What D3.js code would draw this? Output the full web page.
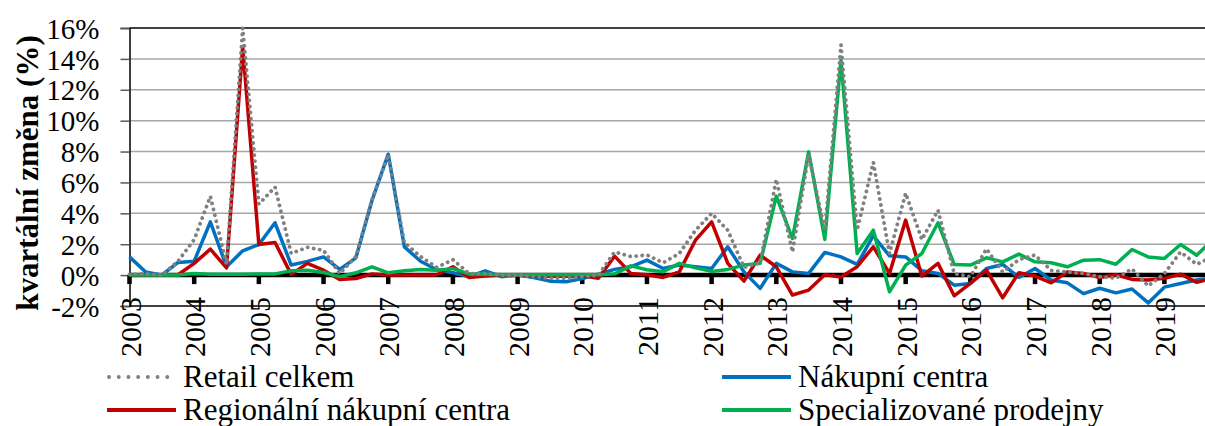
<!DOCTYPE html>
<html>
<head>
<meta charset="utf-8">
<script src="https://cdn.jsdelivr.net/npm/d3@7"></script>
<style>
  body { margin: 0; background: #fff; }
  svg { display: block; }
  text { font-family: "Liberation Serif", "Times New Roman", serif; }
</style>
</head>
<body>
<div class="home"></div>
<script>
// quarterly change (%) 2003Q1 .. 2019Q4
const years = ["2003","2004","2005","2006","2007","2008","2009","2010","2011","2012","2013","2014","2015","2016","2017","2018","2019"];
const yTicks = [-2, 0, 2, 4, 6, 8, 10, 12, 14, 16];

const retail = [0.05, 0.1, 0.0, 0.9, 2.3, 5.1, 0.7, 16.0, 4.6, 5.7, 1.4, 1.8, 1.6, 0.1, 1.2, 4.9, 7.8, 2.1, 1.2, 0.5,
  1.0, 0.1, 0.1, 0.0, 0.0, -0.1, -0.2, -0.2, -0.1, 0.0, 1.5, 1.2, 1.3, 0.8, 1.4, 2.9, 4.0, 2.9, 0.5, 0.8,
  6.2, 1.5, 7.8, 2.9, 14.9, 2.9, 7.3, 1.4, 5.3, 2.3, 4.2, 0.1, -0.1, 1.7, 0.2, 1.0, 1.3, 0.3, 0.2, 0.1,
  -0.1, -0.2, 0.4, -0.7, 0.1, 1.5, 0.7, 1.2];
const nakupni = [1.18, 0.2, 0.0, 0.82, 0.9, 3.45, 0.54, 1.57, 1.98, 3.39, 0.65, 0.89, 1.18, 0.37, 1.12, 4.85, 7.83, 1.83, 0.9, 0.35,
  0.15, -0.1, 0.28, -0.1, 0.0, -0.15, -0.39, -0.43, -0.22, 0.06, 0.37, 0.54, 0.97, 0.43, 0.65, 0.54, 0.43, 1.83, 0.21, -0.86,
  0.76, 0.21, 0.11, 1.47, 1.18, 0.7, 2.55, 1.25, 1.18, 0.28, 0.11, -0.65, -0.54, 0.43, 0.69, -0.15, 0.43, -0.32, -0.5, -1.2,
  -0.85, -1.15, -0.9, -1.8, -0.78, -0.54, -0.32, -0.2];
const regionalni = [0, 0, 0, 0.02, 0.76, 1.68, 0.47, 14.78, 1.98, 2.11, 0.05, 0.76, 0.32, -0.28, -0.22, 0.08, 0.0, 0.0, 0.0, 0.02,
  0.54, -0.15, -0.05, 0.0, 0.0, -0.05, -0.08, -0.08, -0.05, -0.2, 1.23, 0.11, 0.02, -0.15, 0.21, 2.26, 3.45, 0.76, -0.39, 1.29,
  0.54, -1.29, -0.97, 0.03, -0.12, 0.54, 1.83, 0.11, 3.56, -0.06, 0.76, -1.34, -0.54, 0.32, -1.47, 0.15, -0.06, -0.5, 0.21, 0.11,
  -0.15, 0.02, -0.28, -0.32, -0.21, 0.06, -0.47, -0.2];
const specializovane = [0, 0, 0, 0, 0.1, 0.05, 0.05, 0.05, 0.08, 0.08, 0.28, 0.32, 0.17, -0.1, 0.15, 0.54, 0.15, 0.28, 0.37, 0.32,
  0.42, 0.08, 0.05, 0.02, 0.02, 0.02, 0.02, 0.02, 0.02, 0.02, 0.08, 0.6, 0.35, 0.22, 0.76, 0.47, 0.24, 0.37, 0.65, 0.76,
  5.11, 2.37, 7.98, 2.31, 13.9, 1.4, 2.91, -1.08, 0.65, 1.4, 3.39, 0.69, 0.65, 1.12, 0.86, 1.36, 0.86, 0.8, 0.54, 0.97,
  1.0, 0.7, 1.66, 1.18, 1.08, 1.98, 1.29, 2.3];

const seriesNames = ["Retail celkem", "Nákupní centra", "Regionální nákupní centra", "Specializované prodejny"];
const seriesColors = ["#808080", "#0070c0", "#c00000", "#00b050"];

const width = 1205, height = 426;
const serif = "Liberation Serif";
const x = d3.scaleLinear().domain([0, 67]).range([129.5, 1212.9]);
const y = d3.scaleLinear().domain([-2, 16]).range([306, 28]);

const svg = d3.select(".home").append("svg")
  .attr("width", width).attr("height", height)
  .attr("font-family", serif);

// gridlines
svg.append("g").selectAll("line")
  .data(yTicks.filter(d => d > -2 && d < 16 && d !== 0))
  .enter().append("line")
  .attr("x1", x(0)).attr("x2", width)
  .attr("y1", d => y(d)).attr("y2", d => y(d))
  .style("stroke", "#a6a6a6").style("stroke-width", 1.5);

// top / bottom border
[16, -2].forEach(v => {
  svg.append("line").attr("x1", x(0)).attr("x2", width)
    .attr("y1", y(v)).attr("y2", y(v))
    .style("stroke", "#000").style("stroke-width", 1.5);
});

// y axis
const yAxis = d3.axisLeft(y).tickValues(yTicks).tickSize(9).tickFormat(d => d + "%");
const gy = svg.append("g").attr("transform", "translate(" + x(0) + ",0)").call(yAxis)
  .attr("font-family", serif).attr("font-size", 29);
gy.select(".domain").style("stroke", "#000").style("stroke-width", 1.5);
gy.selectAll(".tick line").style("stroke", "#595959").style("stroke-width", 1.5);
gy.selectAll(".tick text")
  .attr("x", -30).attr("dy", "0.35em")
  .style("font-family", serif).style("font-size", "29px").style("fill", "#000");

// y title
svg.append("text")
  .attr("transform", "translate(38,173) rotate(-90)")
  .style("text-anchor", "middle")
  .style("font-family", serif)
  .style("font-weight", "bold").style("font-size", "31px")
  .text("kvartální změna (%)");

// zero line with year ticks
svg.append("line").attr("x1", x(0)).attr("x2", width)
  .attr("y1", y(0)).attr("y2", y(0))
  .style("stroke", "#000").style("stroke-width", 4.5);
svg.append("g").selectAll("rect")
  .data(years)
  .enter().append("rect")
  .attr("x", (d, i) => x(i * 4) - 2.25).attr("y", y(0))
  .attr("width", 4.5).attr("height", 9)
  .style("fill", "#000");

// year labels
svg.append("g").selectAll("text")
  .data(years)
  .enter().append("text")
  .attr("transform", (d, i) => "translate(" + (x(i * 4) + 11) + ",297) rotate(-90)")
  .style("text-anchor", "end")
  .style("font-family", serif)
  .style("font-size", "30px")
  .text(d => d);

// series
const line = d3.line().x((d, i) => x(i)).y(d => y(d));
const allSeries = [retail, nakupni, regionalni, specializovane];
const drawOrder = [1, 2, 3, 0];
drawOrder.forEach(k => {
  const p = svg.append("path")
    .datum(allSeries[k])
    .attr("d", line)
    .style("fill", "none")
    .style("stroke", seriesColors[k])
    .style("stroke-width", 3.5)
    .style("stroke-linejoin", "round");
  if (k === 0) {
    p.style("stroke-dasharray", "0.1 6").style("stroke-linecap", "round").style("stroke-width", 3.8);
  }
});

// legend
const legPos = [[107, 377], [722, 377], [107, 410], [722, 410]];
seriesNames.forEach((name, k) => {
  const g = svg.append("g").attr("transform", "translate(" + legPos[k][0] + "," + legPos[k][1] + ")");
  const l = g.append("line").attr("x1", 0).attr("x2", 69).attr("y1", 0).attr("y2", 0)
    .style("stroke", seriesColors[k]).style("stroke-width", 3.8);
  if (k === 0) l.style("stroke-dasharray", "0.1 9.6").style("stroke-linecap", "round").attr("x1", 2);
  g.append("text").attr("x", 76).attr("y", 10)
    .style("font-family", serif)
    .style("font-size", "31px")
    .text(name);
});
</script>
</body>
</html>
